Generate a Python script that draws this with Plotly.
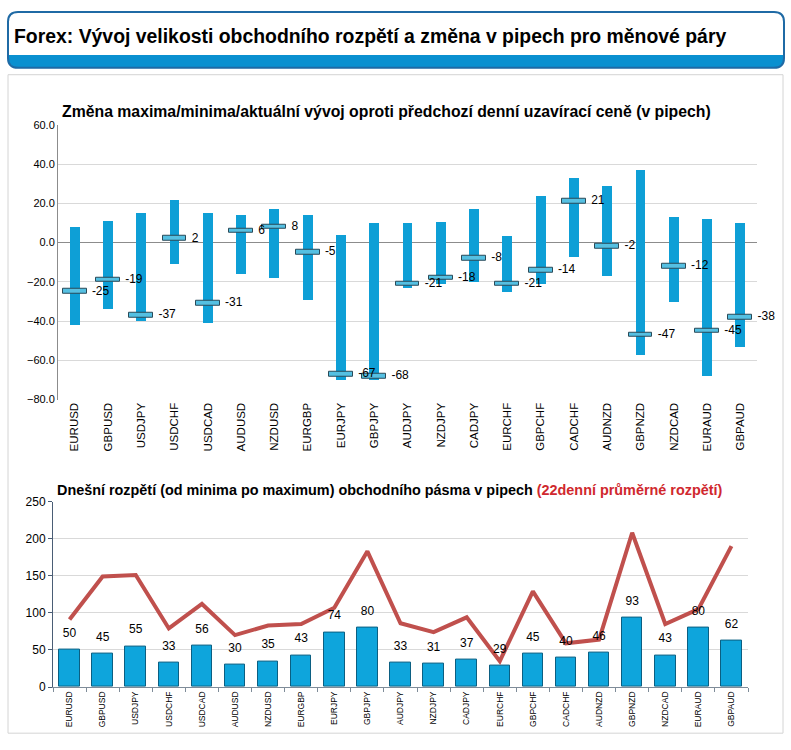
import plotly.graph_objects as go

pairs = ["EURUSD", "GBPUSD", "USDJPY", "USDCHF", "USDCAD", "AUDUSD", "NZDUSD",
         "EURGBP", "EURJPY", "GBPJPY", "AUDJPY", "NZDJPY", "CADJPY", "EURCHF",
         "GBPCHF", "CADCHF", "AUDNZD", "GBPNZD", "NZDCAD", "EURAUD", "GBPAUD"]

# top chart: change vs previous close (pips)
high_chg = [8, 11, 15, 22, 15, 14, 17, 14, 4, 10, 10, 10.5, 17, 3.5, 24, 33, 29, 37, 13, 12, 10]
low_chg = [-42, -34, -40, -11, -41, -16, -18, -29, -70, -70, -23, -21, -20, -25, -21, -7, -17, -57, -30, -68, -53]
current_chg = [-25, -19, -37, 2, -31, 6, 8, -5, -67, -68, -21, -18, -8, -21, -14, 21, -2, -47, -12, -45, -38]

# bottom chart: today's range and 22-day average range
today_range = [50, 45, 55, 33, 56, 30, 35, 43, 74, 80, 33, 31, 37, 29, 45, 40, 46, 93, 43, 80, 62]
avg22_range = [91, 149, 151, 79, 112, 70, 83, 85, 107, 183, 86, 74, 94, 35, 129, 59, 64, 208, 85, 105, 190]

top_ticks = [60, 40, 20, 0, -20, -40, -60, -80]
bottom_ticks = [0, 50, 100, 150, 200, 250]

W, H = 791, 750
FONT = "Liberation Sans, Arial, sans-serif"
NCAT = len(pairs)


def px(x):
    return x / W


def py(y):
    return 1 - y / H


fig = go.Figure()

# range bars (low -> high)
fig.add_trace(go.Bar(
    x=pairs, y=[h - l for h, l in zip(high_chg, low_chg)], base=low_chg,
    width=0.3, marker=dict(color="#0e9fd6", line=dict(width=0)),
    xaxis="x", yaxis="y", hoverinfo="skip", showlegend=False))

# current marker (thin horizontal slab)
MARK_H = 2.4
fig.add_trace(go.Bar(
    x=pairs, y=[MARK_H] * NCAT, base=[c - MARK_H / 2 for c in current_chg],
    width=0.72, marker=dict(color="#55c0e2", line=dict(color="#2a4a58", width=1)),
    xaxis="x", yaxis="y", hoverinfo="skip", showlegend=False))

# labels for current value
fig.add_trace(go.Scatter(
    x=pairs, y=current_chg, mode="markers+text",
    text=[str(v) for v in current_chg], textposition="middle right",
    textfont=dict(family=FONT, size=12, color="#000000"),
    marker=dict(size=26, color="rgba(0,0,0,0)"),
    xaxis="x", yaxis="y", hoverinfo="skip", showlegend=False, cliponaxis=False))

# bottom: today's range bars
fig.add_trace(go.Bar(
    x=pairs, y=today_range, width=0.62,
    marker=dict(color="#0ea5dc", line=dict(color="#0b5f82", width=1)),
    xaxis="x2", yaxis="y2", hoverinfo="skip", showlegend=False))

# bottom: 22-day average line
fig.add_trace(go.Scatter(
    x=pairs, y=avg22_range, mode="lines",
    line=dict(color="#c0504d", width=4),
    xaxis="x2", yaxis="y2", hoverinfo="skip", showlegend=False))

# bottom: value labels above bars
fig.add_trace(go.Scatter(
    x=pairs, y=today_range, mode="markers+text",
    text=[str(v) for v in today_range], textposition="top center",
    textfont=dict(family=FONT, size=12, color="#000000"),
    marker=dict(size=14, color="rgba(0,0,0,0)"),
    xaxis="x2", yaxis="y2", hoverinfo="skip", showlegend=False, cliponaxis=False))

shapes = []
# panel
shapes.append(dict(type="rect", xref="paper", yref="paper",
                   x0=px(8), x1=px(783), y0=py(740), y1=py(69),
                   line=dict(color="#d4d4d4", width=1), fillcolor="#ffffff", layer="below"))


def rounded(x0, y0, x1, y1, r, top=True, bottom=True):
    rt = r if top else 0
    rb = r if bottom else 0
    p = f"M {px(x0 + rt)},{py(y0)} L {px(x1 - rt)},{py(y0)} "
    p += f"Q {px(x1)},{py(y0)} {px(x1)},{py(y0 + rt)} "
    p += f"L {px(x1)},{py(y1 - rb)} Q {px(x1)},{py(y1)} {px(x1 - rb)},{py(y1)} "
    p += f"L {px(x0 + rb)},{py(y1)} Q {px(x0)},{py(y1)} {px(x0)},{py(y1 - rb)} "
    p += f"L {px(x0)},{py(y0 + rt)} Q {px(x0)},{py(y0)} {px(x0 + rt)},{py(y0)} Z"
    return p


shapes.append(dict(type="path", xref="paper", yref="paper",
                   path=rounded(8, 5, 784, 62, 10),
                   fillcolor="#0a90d0", line=dict(width=0)))
shapes.append(dict(type="path", xref="paper", yref="paper",
                   path=rounded(8, 5, 784, 49, 10, bottom=False),
                   fillcolor="#ffffff", line=dict(width=0)))
shapes.append(dict(type="path", xref="paper", yref="paper",
                   path=rounded(8, 5, 784, 62, 10),
                   fillcolor="rgba(0,0,0,0)", line=dict(color="#1f6aa5", width=2)))

annotations = [
    dict(text="Forex: Vývoj velikosti obchodního rozpětí a změna v pipech pro měnové páry",
         xref="paper", yref="paper", x=px(12), y=py(30), xanchor="left", yanchor="middle",
         showarrow=False, font=dict(family=FONT, size=19.4, color="#000000", weight="bold")),
    dict(text="Změna maxima/minima/aktuální vývoj oproti předchozí denní uzavírací ceně (v pipech)",
         xref="paper", yref="paper", x=px(60), y=py(106), xanchor="left", yanchor="middle",
         showarrow=False, font=dict(family=FONT, size=15.8, color="#000000", weight="bold")),
    dict(text="Dnešní rozpětí (od minima po maximum) obchodního pásma v pipech "
              "<span style='color:#d0282e'>(22denní průměrné rozpětí)</span>",
         xref="paper", yref="paper", x=px(55), y=py(492), xanchor="left", yanchor="middle",
         showarrow=False, font=dict(family=FONT, size=14.4, color="#000000", weight="bold")),
]

fig.update_layout(
    width=W, height=H, margin=dict(l=0, r=0, t=0, b=0),
    paper_bgcolor="#ffffff", plot_bgcolor="rgba(0,0,0,0)",
    barmode="overlay", bargap=0,
    font=dict(family=FONT, color="#000000"),
    shapes=shapes, annotations=annotations,
    xaxis=dict(domain=[px(58), px(757)], anchor="y", type="category",
               categoryorder="array", categoryarray=pairs,
               range=[-0.5, NCAT - 0.5], autorange=False,
               tickangle=-90, tickfont=dict(family=FONT, size=11.5, color="#000000"),
               showgrid=False, showline=False, ticks=""),
    yaxis=dict(domain=[py(400), py(120)], anchor="x", range=[-80, 60],
               tickvals=top_ticks, tickformat=".1f",
               tickfont=dict(family=FONT, size=11, color="#000000"),
               showgrid=True, gridcolor="#d9d9d9", gridwidth=1,
               zeroline=True, zerolinecolor="#8c8c8c", zerolinewidth=1,
               showline=True, linecolor="#8c8c8c", linewidth=1, ticks=""),
    xaxis2=dict(domain=[px(53), px(748)], anchor="y2", type="category",
                categoryorder="array", categoryarray=pairs,
                range=[-0.5, NCAT - 0.5], autorange=False,
                tickangle=-90, tickfont=dict(family=FONT, size=8.5, color="#000000"),
                showgrid=False, showline=True, linecolor="#7f8c99", linewidth=1,
                ticks="outside", tickson="boundaries", ticklen=4, tickcolor="#7f8c99"),
    yaxis2=dict(domain=[py(693), py(504)], anchor="x2", range=[0, 250],
                tickvals=bottom_ticks,
                tickfont=dict(family=FONT, size=12, color="#000000"),
                showgrid=True, gridcolor="#d9d9d9", gridwidth=1, zeroline=False,
                showline=True, linecolor="#4a5d75", linewidth=1,
                ticks="outside", ticklen=4, tickcolor="#4a5d75"),
)

fig.write_html("out.html", config={"displayModeBar": False},
               post_script="document.body.style.margin='0';")
